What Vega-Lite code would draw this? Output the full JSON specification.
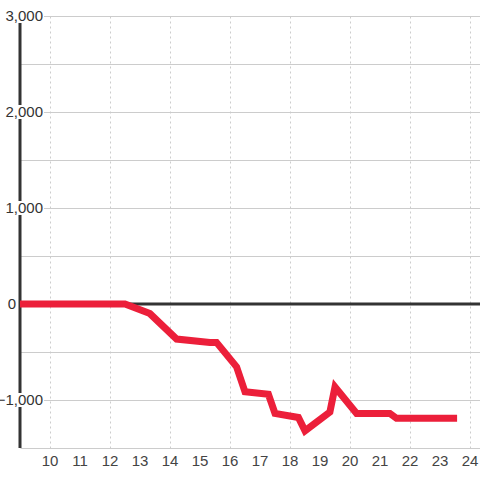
{
  "$schema": "https://vega.github.io/schema/vega-lite/v6.json",
  "width": 460,
  "height": 432,
  "autosize": {"type": "none"},
  "padding": {"left": 20, "top": 16, "right": 0, "bottom": 32},
  "background": "#ffffff",
  "config": {
    "view": {"stroke": null},
    "font": "Liberation Sans"
  },
  "datasets": {
    "series": [
      {"hour": 9, "value": 0},
      {"hour": 10, "value": 0},
      {"hour": 11, "value": 0},
      {"hour": 12, "value": 0},
      {"hour": 12.5, "value": 0},
      {"hour": 13.33, "value": -100},
      {"hour": 14.22, "value": -365},
      {"hour": 15.33, "value": -400},
      {"hour": 15.55, "value": -400},
      {"hour": 16.22, "value": -655},
      {"hour": 16.5, "value": -915},
      {"hour": 17.28, "value": -940},
      {"hour": 17.5, "value": -1140},
      {"hour": 18.28, "value": -1182},
      {"hour": 18.5, "value": -1322},
      {"hour": 19.33, "value": -1125},
      {"hour": 19.5, "value": -865},
      {"hour": 20.22, "value": -1140},
      {"hour": 21.33, "value": -1140},
      {"hour": 21.55, "value": -1190},
      {"hour": 23.57, "value": -1190}
    ],
    "ylabels": [
      {"v": 3000},
      {"v": 2000},
      {"v": 1000},
      {"v": 0},
      {"v": -1000}
    ],
    "xlabels": [
      {"h": 10}, {"h": 11}, {"h": 12}, {"h": 13}, {"h": 14},
      {"h": 15}, {"h": 16}, {"h": 17}, {"h": 18}, {"h": 19},
      {"h": 20}, {"h": 21}, {"h": 22}, {"h": 23}, {"h": 24}
    ],
    "one": [{}]
  },
  "layer": [
    {
      "data": {"name": "one"},
      "mark": {"type": "rule", "color": "#333333", "strokeWidth": 3},
      "encoding": {
        "x": {
          "datum": 9,
          "type": "quantitative",
          "scale": {"domain": [9, 24.3333], "nice": false, "zero": false},
          "axis": {
            "values": [10, 11, 12, 13, 14, 15, 16, 17, 18, 19, 20, 21, 22, 23, 24],
            "title": null,
            "domain": false,
            "ticks": false,
            "labels": false,
            "grid": true,
            "gridColor": "#cccccc",
            "gridDash": [2, 3],
            "gridWidth": 1
          }
        },
        "x2": {"datum": 24.3333},
        "y": {
          "datum": 0,
          "type": "quantitative",
          "scale": {"domain": [-1500, 3000], "nice": false},
          "axis": {
            "values": [-1500, -1000, -500, 0, 500, 1000, 1500, 2000, 2500, 3000],
            "title": null,
            "labels": false,
            "ticks": false,
            "domain": false,
            "grid": true,
            "gridColor": "#cccccc",
            "gridWidth": 1
          }
        }
      }
    },
    {
      "data": {"name": "one"},
      "mark": {"type": "rule", "color": "#333333", "strokeWidth": 3},
      "encoding": {
        "x": {"datum": 9, "type": "quantitative"}
      }
    },
    {
      "data": {"name": "ylabels"},
      "transform": [{"filter": "datum.v !== 0"}],
      "mark": {"type": "rect", "color": "#ffffff", "width": 38, "height": 14, "xOffset": 5},
      "encoding": {
        "x": {"datum": 9, "type": "quantitative"},
        "y": {"field": "v", "type": "quantitative"}
      }
    },
    {
      "data": {"name": "series"},
      "mark": {"type": "line", "color": "#ec1f3a", "strokeWidth": 7, "strokeJoin": "miter"},
      "encoding": {
        "x": {"field": "hour", "type": "quantitative"},
        "y": {"field": "value", "type": "quantitative"},
        "order": {"field": "hour", "type": "quantitative"}
      }
    },
    {
      "data": {"name": "ylabels"},
      "transform": [{"filter": "datum.v !== 0"}],
      "mark": {"type": "text", "align": "right", "baseline": "middle", "dx": 23, "fontSize": 15, "font": "Liberation Sans", "color": "#333333"},
      "encoding": {
        "x": {"datum": 9, "type": "quantitative"},
        "y": {"field": "v", "type": "quantitative"},
        "text": {"field": "v", "type": "quantitative", "format": ","}
      }
    },
    {
      "data": {"name": "ylabels"},
      "transform": [{"filter": "datum.v === 0"}],
      "mark": {"type": "text", "align": "right", "baseline": "middle", "dx": -4, "fontSize": 15, "font": "Liberation Sans", "color": "#333333"},
      "encoding": {
        "x": {"datum": 9, "type": "quantitative"},
        "y": {"field": "v", "type": "quantitative"},
        "text": {"field": "v", "type": "quantitative", "format": ","}
      }
    },
    {
      "data": {"name": "xlabels"},
      "mark": {"type": "text", "align": "center", "baseline": "middle", "dy": 13, "fontSize": 15, "font": "Liberation Sans", "color": "#444444"},
      "encoding": {
        "x": {"field": "h", "type": "quantitative"},
        "y": {"datum": -1500, "type": "quantitative"},
        "text": {"field": "h", "type": "quantitative", "format": "d"}
      }
    }
  ]
}
